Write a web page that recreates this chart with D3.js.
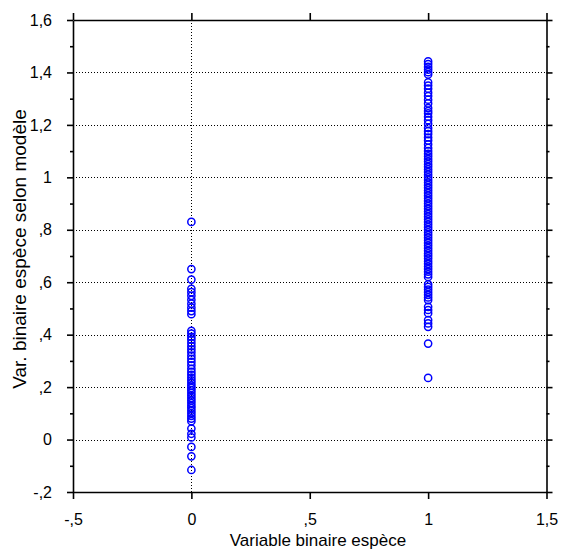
<!DOCTYPE html>
<html>
<head>
<meta charset="utf-8">
<script src="https://cdn.jsdelivr.net/npm/d3@7"></script>
<style>
  html, body { margin: 0; padding: 0; background: #fff; }
  svg { display: block; font-family: "Liberation Sans", Arial, sans-serif; }
</style>
</head>
<body>
<svg id="chart" width="561" height="549"></svg>
<script>
// Observed species code (0 / 1) and the value predicted by the model
const speciesCodes = [0, 1];

const predictedSpecies0 = [
  0.83, 0.65, 0.61, 0.575, 0.562, 0.548, 0.533, 0.518, 0.503, 0.49, 0.478,
  0.415, 0.404, 0.392, 0.381, 0.368, 0.356, 0.344, 0.333, 0.32, 0.308, 0.296,
  0.283, 0.27, 0.258, 0.247, 0.236, 0.226, 0.216, 0.206, 0.197, 0.188, 0.178,
  0.168, 0.158, 0.149, 0.139, 0.129, 0.12, 0.11, 0.1, 0.09, 0.08, 0.07,
  0.042, 0.022, 0.008, -0.028, -0.064, -0.116
];

const predictedSpecies1 = [
  1.442, 1.432, 1.421, 1.411, 1.401, 1.392,
  1.362, 1.35, 1.338, 1.323, 1.31, 1.296, 1.282, 1.264, 1.253, 1.244, 1.231,
  1.218, 1.204, 1.188, 1.176, 1.165, 1.152, 1.14, 1.126, 1.112, 1.1, 1.09,
  1.08, 1.07, 1.06, 1.05, 1.04, 1.03, 1.02, 1.01, 1.0, 0.99, 0.98, 0.97,
  0.96, 0.95, 0.94, 0.93, 0.92, 0.91, 0.9, 0.89, 0.88, 0.87, 0.86, 0.85,
  0.84, 0.83, 0.82, 0.81, 0.8, 0.79, 0.78, 0.77, 0.76, 0.75, 0.74, 0.73,
  0.72, 0.71, 0.7, 0.69, 0.68, 0.67, 0.66, 0.65, 0.64, 0.63, 0.62,
  0.592, 0.582, 0.572, 0.562, 0.552, 0.542, 0.532,
  0.506, 0.494, 0.482, 0.456, 0.443, 0.43, 0.366, 0.235
];

const xTickValues = [-0.5, 0, 0.5, 1, 1.5];
const xTickLabels = ["-,5", "0", ",5", "1", "1,5"];
const yTickValues = [-0.2, 0, 0.2, 0.4, 0.6, 0.8, 1, 1.2, 1.4, 1.6];
const yTickLabels = ["-,2", "0", ",2", ",4", ",6", ",8", "1", "1,2", "1,4", "1,6"];
const yMinorValues = [-0.1, 0.1, 0.3, 0.5, 0.7, 0.9, 1.1, 1.3, 1.5];
const yGridValues = [0, 0.2, 0.4, 0.6, 0.8, 1, 1.2, 1.4];

const xTitle = "Variable binaire espèce";
const yTitle = "Var. binaire espèce selon modèle";

const points = []
  .concat(predictedSpecies0.map(v => ({ x: speciesCodes[0], y: v })))
  .concat(predictedSpecies1.map(v => ({ x: speciesCodes[1], y: v })));

const svg = d3.select("#chart");
const plotLeft = 73, plotRight = 546.5, plotTop = 20, plotBottom = 492;

const x = d3.scaleLinear().domain([-0.5, 1.5]).range([plotLeft, plotRight]);
const y = d3.scaleLinear().domain([-0.2, 1.6]).range([plotBottom, plotTop]);

const fmtX = d => xTickLabels[xTickValues.indexOf(d)];
const fmtY = d => yTickLabels[yTickValues.findIndex(v => Math.abs(v - d) < 1e-9)];

// dotted reference grid
const grid = svg.append("g").attr("stroke", "#000").attr("stroke-width", 1)
  .attr("stroke-dasharray", "1,2");
grid.selectAll("line.h").data(yGridValues).join("line")
  .attr("class", "h")
  .attr("x1", plotLeft).attr("x2", plotRight)
  .attr("y1", d => Math.round(y(d)) + 0.5).attr("y2", d => Math.round(y(d)) + 0.5);
grid.append("line")
  .attr("x1", Math.round(x(0)) + 0.5).attr("x2", Math.round(x(0)) + 0.5)
  .attr("y1", plotTop).attr("y2", plotBottom);

// four-sided frame with outward ticks
function styleAxis(g) {
  g.selectAll("path.domain").attr("stroke", "#000").attr("stroke-width", 1.6);
  g.selectAll(".tick line").attr("stroke", "#000").attr("stroke-width", 1.6);
}

const axLeft = svg.append("g").attr("transform", `translate(${plotLeft},0)`)
  .call(d3.axisLeft(y).tickValues(yTickValues).tickSize(6).tickSizeOuter(0).tickPadding(15).tickFormat(fmtY));
styleAxis(axLeft);
axLeft.selectAll("text").attr("font-size", 16).attr("fill", "#000")
  .attr("font-family", "Liberation Sans, Arial, sans-serif");
svg.append("g").attr("transform", `translate(${plotLeft},0)`)
  .call(d3.axisLeft(y).tickValues(yMinorValues).tickSize(3).tickSizeOuter(0).tickFormat(""))
  .call(styleAxis).call(g => g.select("path.domain").remove());

const axRight = svg.append("g").attr("transform", `translate(${plotRight},0)`)
  .call(d3.axisRight(y).tickValues(yTickValues).tickSize(6).tickSizeOuter(0).tickFormat(""));
styleAxis(axRight);
svg.append("g").attr("transform", `translate(${plotRight},0)`)
  .call(d3.axisRight(y).tickValues(yMinorValues).tickSize(3).tickSizeOuter(0).tickFormat(""))
  .call(styleAxis).call(g => g.select("path.domain").remove());

const axBottom = svg.append("g").attr("transform", `translate(0,${plotBottom})`)
  .call(d3.axisBottom(x).tickValues(xTickValues).tickSize(7).tickSizeOuter(0).tickPadding(15).tickFormat(fmtX));
styleAxis(axBottom);
axBottom.selectAll("text").attr("font-size", 16).attr("fill", "#000")
  .attr("font-family", "Liberation Sans, Arial, sans-serif");

const axTop = svg.append("g").attr("transform", `translate(0,${plotTop})`)
  .call(d3.axisTop(x).tickValues(xTickValues).tickSize(7).tickSizeOuter(0).tickFormat(""));
styleAxis(axTop);

// axis titles
svg.append("text")
  .attr("x", 318).attr("y", 546)
  .attr("text-anchor", "middle").attr("font-size", 17).attr("fill", "#000")
  .text(xTitle);
svg.append("text")
  .attr("transform", "translate(26,249) rotate(-90)")
  .attr("text-anchor", "middle").attr("font-size", 19).attr("fill", "#000")
  .text(yTitle);

// scatter points
svg.append("g").selectAll("circle").data(points).join("circle")
  .attr("cx", d => x(d.x)).attr("cy", d => y(d.y)).attr("r", 3.6)
  .attr("fill", "none").attr("stroke", "#0000ff").attr("stroke-width", 1.5);
</script>
</body>
</html>
